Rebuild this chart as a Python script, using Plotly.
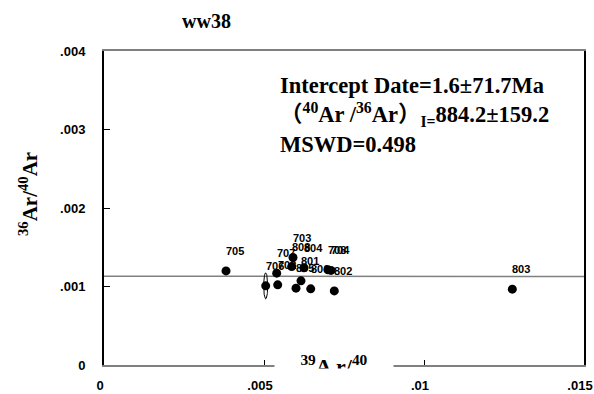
import numpy as np
import plotly.graph_objects as go

# ---- data ----
step_labels = ["705", "706", "707", "702", "703", "808", "804", "801",
               "805", "806", "802", "708", "704", "803"]
x_39_40 = [0.003813, 0.005053, 0.005397, 0.005428, 0.005906, 0.005866, 0.006250,
           0.006156, 0.006000, 0.006460, 0.007197, 0.007000, 0.007094, 0.012760]
y_36_40 = [0.001199, 0.001008, 0.001170, 0.001021, 0.001369, 0.001254, 0.001238,
           0.001072, 0.000979, 0.000970, 0.000944, 0.001212, 0.001205, 0.000966]
ellipse_step = "706"
ellipse_sx = 0.0000625
ellipse_sy = 0.000166

iso_x = [0.0, 0.015]
iso_y = [0.001131, 0.001127]

x_tickvals = [0, 0.005, 0.01, 0.015]
x_ticktext = ["0", ".005", ".01", ".015"]
y_tickvals = [0, 0.001, 0.002, 0.003, 0.004]
y_ticktext = ["0", ".001", ".002", ".003", ".004"]

title_text = "ww38"
stats_lines = [
    "Intercept Date=1.6±71.7Ma",
    "（<sup>40</sup>Ar /<sup>36</sup>Ar）<sub>I=</sub>884.2±159.2",
    "MSWD=0.498",
]
y_title = "<sup>36</sup>Ar/<sup>40</sup>Ar"
x_title = "<sup>39</sup>A r/<sup>40</sup>"

SERIF = "Liberation Serif, Times New Roman, Noto Sans CJK SC, serif"
SANS = "Liberation Sans, Arial, sans-serif"

# plot-area pixel geometry (for placing free text in paper units)
L, T, W, H = 104, 51, 480, 314


def px(xp):
    return (xp - L) / W


def py(yp):
    return (T + H - yp) / H


fig = go.Figure()

# isochron line
fig.add_trace(go.Scatter(x=iso_x, y=iso_y, mode="lines",
                         line=dict(color="#808080", width=1.5),
                         hoverinfo="skip", showlegend=False))

# error ellipse
i = step_labels.index(ellipse_step)
t = np.linspace(0, 2 * np.pi, 80)
fig.add_trace(go.Scatter(x=x_39_40[i] + ellipse_sx * np.cos(t),
                         y=y_36_40[i] + ellipse_sy * np.sin(t),
                         mode="lines", line=dict(color="black", width=1),
                         hoverinfo="skip", showlegend=False))

# points
fig.add_trace(go.Scatter(x=x_39_40, y=y_36_40, mode="markers",
                         marker=dict(color="black", size=9, symbol="circle"),
                         text=step_labels, showlegend=False))

annotations = []
for lab, xv, yv in zip(step_labels, x_39_40, y_36_40):
    annotations.append(dict(x=xv, y=yv, xref="x", yref="y", text=lab,
                            showarrow=False, xshift=9, yshift=20,
                            font=dict(family=SANS, size=11, color="black",
                                      weight="bold")))

stat_px_y = [85, 115, 144]
for txt, yy in zip(stats_lines, stat_px_y):
    annotations.append(dict(x=px(278), y=py(yy), xref="paper", yref="paper",
                            text=txt, showarrow=False, xanchor="left",
                            yanchor="middle",
                            font=dict(family=SERIF, size=22.5, color="black",
                                      weight="bold")))

annotations.append(dict(x=px(206), y=py(21), xref="paper", yref="paper",
                        text=title_text, showarrow=False, xanchor="center",
                        yanchor="middle",
                        font=dict(family=SERIF, size=20, color="black",
                                  weight="bold")))
annotations.append(dict(x=px(28), y=py(194), xref="paper", yref="paper",
                        text=y_title, showarrow=False, textangle=-90,
                        xanchor="center", yanchor="middle",
                        font=dict(family=SERIF, size=21, color="black",
                                  weight="bold")))
# x-axis title sitting on (and hiding) the axis line, bottom cut off
annotations.append(dict(x=px(334), y=py(365), xref="paper", yref="paper",
                        text=x_title, showarrow=False, xanchor="center",
                        yanchor="middle", width=118, bgcolor="white",
                        borderpad=0,
                        font=dict(family=SERIF, size=22, color="black",
                                  weight="bold")))
annotations.append(dict(x=px(334), y=py(367.5), xref="paper", yref="paper",
                        text=" ", showarrow=False, xanchor="center",
                        yanchor="top", width=118, height=22, bgcolor="white",
                        borderpad=0, font=dict(size=4)))

fig.update_layout(
    width=594, height=394,
    margin=dict(l=L, r=594 - L - W, t=T, b=394 - T - H, autoexpand=False),
    paper_bgcolor="white", plot_bgcolor="white",
    showlegend=False,
    annotations=annotations,
    xaxis=dict(range=[0, 0.015], tickvals=x_tickvals, ticktext=x_ticktext,
               automargin=False,
               showgrid=False, zeroline=False, showline=True,
               linecolor="#808080", linewidth=2, mirror=True,
               ticks="inside", ticklen=5, tickcolor="black", tickwidth=1,
               ticklabelstandoff=7, ticklabelshift=-4,
               ticklabeloverflow="allow",
               tickfont=dict(family=SANS, size=13, color="black",
                             weight="bold")),
    yaxis=dict(range=[0, 0.004], tickvals=y_tickvals, ticktext=y_ticktext,
               automargin=False,
               showgrid=False, zeroline=False, showline=True,
               linecolor="black", linewidth=2, mirror=True,
               ticks="inside", ticklen=6, tickcolor="black", tickwidth=1,
               ticklabelstandoff=14,
               tickfont=dict(family=SANS, size=13, color="black",
                             weight="bold")),
)

fig.write_html("out.html")
